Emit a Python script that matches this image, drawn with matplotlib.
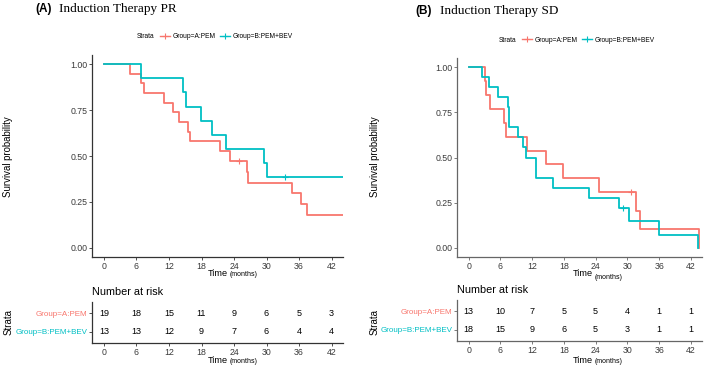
import matplotlib
matplotlib.use("Agg")
import matplotlib.pyplot as plt
from matplotlib.lines import Line2D

plt.rcParams['font.family'] = ['Liberation Sans', 'DejaVu Sans']

RED = '#F8766D'
TEAL = '#00BFC4'

W, H = 709, 370

# --- data ---
months = [0, 6, 12, 18, 24, 30, 36, 42]
strata = ['Group=A:PEM', 'Group=B:PEM+BEV']

# (A) Induction therapy PR
pr_a_t = [0, 4.8, 6.8, 7.3, 11.1, 12.8, 13.8, 15.6, 15.8, 21.4, 23.2, 26.3, 26.6, 34.7, 36.4, 37.5, 44.1]
pr_a_s = [1.0, 0.947, 0.895, 0.842, 0.789, 0.737, 0.684, 0.632, 0.579, 0.526, 0.474, 0.414, 0.355, 0.296, 0.237, 0.178, 0.178]
pr_a_cens = ([24.95], [0.474])
pr_b_t = [0, 6.8, 14.5, 15.2, 17.9, 20.0, 22.6, 29.6, 30.1, 44.1]
pr_b_s = [1.0, 0.923, 0.846, 0.769, 0.692, 0.615, 0.538, 0.462, 0.385, 0.385]
pr_b_cens = ([33.4], [0.385])
pr_risk_a = [19, 18, 15, 11, 9, 6, 5, 3]
pr_risk_b = [13, 13, 12, 9, 7, 6, 4, 4]

# (B) Induction therapy SD
sd_a_t = [0, 3.1, 3.3, 4.1, 6.6, 7.1, 11.1, 14.6, 17.8, 24.7, 31.6, 32.3, 43.6]
sd_a_s = [1.0, 0.923, 0.846, 0.769, 0.692, 0.615, 0.538, 0.462, 0.385, 0.308, 0.205, 0.103, 0.0]
sd_a_cens = ([30.6], [0.308])
sd_b_t = [0, 2.5, 3.8, 5.5, 7.5, 7.7, 9.4, 10.2, 10.9, 12.8, 15.9, 22.7, 28.4, 30.3, 35.9, 43.3]
sd_b_s = [1.0, 0.944, 0.889, 0.833, 0.778, 0.667, 0.611, 0.556, 0.5, 0.389, 0.333, 0.278, 0.222, 0.148, 0.074, 0.0]
sd_b_cens = ([29.1], [0.222])
sd_risk_a = [13, 10, 7, 5, 5, 4, 1, 1]
sd_risk_b = [18, 15, 9, 6, 5, 3, 1, 1]


def fx(px):
    return px / W


def fy(py):
    return 1 - py / H


def box(left, right, top, bottom):
    return [fx(left), fy(bottom), (right - left) / W, (bottom - top) / H]


def style_axes(ax, spine_col):
    for s in ['top', 'right']:
        ax.spines[s].set_visible(False)
    for s in ['left', 'bottom']:
        ax.spines[s].set_color(spine_col)
        ax.spines[s].set_linewidth(0.9)
    ax.tick_params(length=2, width=0.6, color=spine_col, labelsize=6.3,
                   labelcolor='#3a3a3a', pad=1.5)
    ax.set_xlim(-2.2, 44.1)
    ax.set_xticks(months)


def time_label(xr, yb, raised=0):
    fig.text(fx(xr), fy(yb), 'Time', fontsize=6.6, ha='right', va='baseline')
    fig.text(fx(xr + 2), fy(yb + raised), '(months)', fontsize=5.0, ha='left', va='baseline')


def panel(letter, title, x0, x1, top, title_x, letter_x, title_y,
          curves, cens, risk, legend_x, legend_y, risk_top, risk_bot,
          nar_y, ylab_x, spine_col, months_raise):
    # main KM plot
    ax = fig.add_axes(box(x0, x1, top, 257))
    style_axes(ax, spine_col)
    ax.set_ylim(-0.05, 1.05)
    ax.set_yticks([0, 0.25, 0.5, 0.75, 1.0])
    ax.set_yticklabels(['0.00', '0.25', '0.50', '0.75', '1.00'])
    cols = [RED, TEAL]
    for (t, s), (ct, cs), c in zip(curves, cens, cols):
        ax.step(t, s, where='post', color=c, lw=1.3)
        ax.plot(ct, cs, ls='none', marker='+', ms=4.5, mew=0.8, color=c)

    fig.text(fx(letter_x), fy(title_y), letter, fontsize=8.5, fontweight='bold', va='center')
    fig.text(fx(title_x), fy(title_y), title, fontsize=9.5, va='center',
             family=['Liberation Serif', 'DejaVu Serif'])
    fig.text(fx(ylab_x), fy(157), 'Survival probability', fontsize=6.9, rotation=90,
             ha='center', va='center')
    time_label(x0 + 136, 276, months_raise)

    # legend
    fig.text(fx(legend_x - 23), fy(legend_y), 'Strata', fontsize=4.8, va='center')
    handles = [Line2D([], [], color=c, lw=1.0, marker='+', ms=4, mew=0.8) for c in cols]
    fig.legend(handles, strata, loc='center left', bbox_to_anchor=(fx(legend_x), fy(legend_y)),
               ncol=2, frameon=False, fontsize=4.8, handlelength=1.5, handletextpad=0.45,
               columnspacing=0.6, borderpad=0, borderaxespad=0)

    # risk table
    rx = fig.add_axes(box(x0, x1, risk_top, risk_bot))
    style_axes(rx, spine_col)
    rx.set_ylim(0.42, 2.58)
    rx.set_yticks([2, 1])
    rx.set_yticklabels(strata, fontsize=5.8)
    for lab, c in zip(rx.get_yticklabels(), cols):
        lab.set_color(c)
    for row, vals in zip([2, 1], risk):
        for m, v in zip(months, vals):
            rx.text(m, row, str(v), fontsize=6.5, ha='center', va='center')
    fig.text(fx(x0), fy(nar_y), 'Number at risk', fontsize=7.8, ha='left', va='center')
    fig.text(fx(ylab_x), fy(322), 'Strata', fontsize=6.9, rotation=90, ha='center', va='center')
    time_label(x0 + 136, 363, 0)
    return ax, rx


fig = plt.figure(figsize=(W / 100, H / 100), dpi=100)

panel('(A)', 'Induction Therapy PR', 92, 343, 55, 59, 35, 9,
      [(pr_a_t, pr_a_s), (pr_b_t, pr_b_s)], [pr_a_cens, pr_b_cens],
      [pr_risk_a, pr_risk_b], 160, 37, 302, 343, 292, 8.5, '#333333', 0)

panel('(B)', 'Induction Therapy SD', 457, 702, 58, 440, 415, 11,
      [(sd_a_t, sd_a_s), (sd_b_t, sd_b_s)], [sd_a_cens, sd_b_cens],
      [sd_risk_a, sd_risk_b], 522, 40, 300, 341, 290, 375, '#666666', 3)

fig.savefig('out.png', dpi=100)
